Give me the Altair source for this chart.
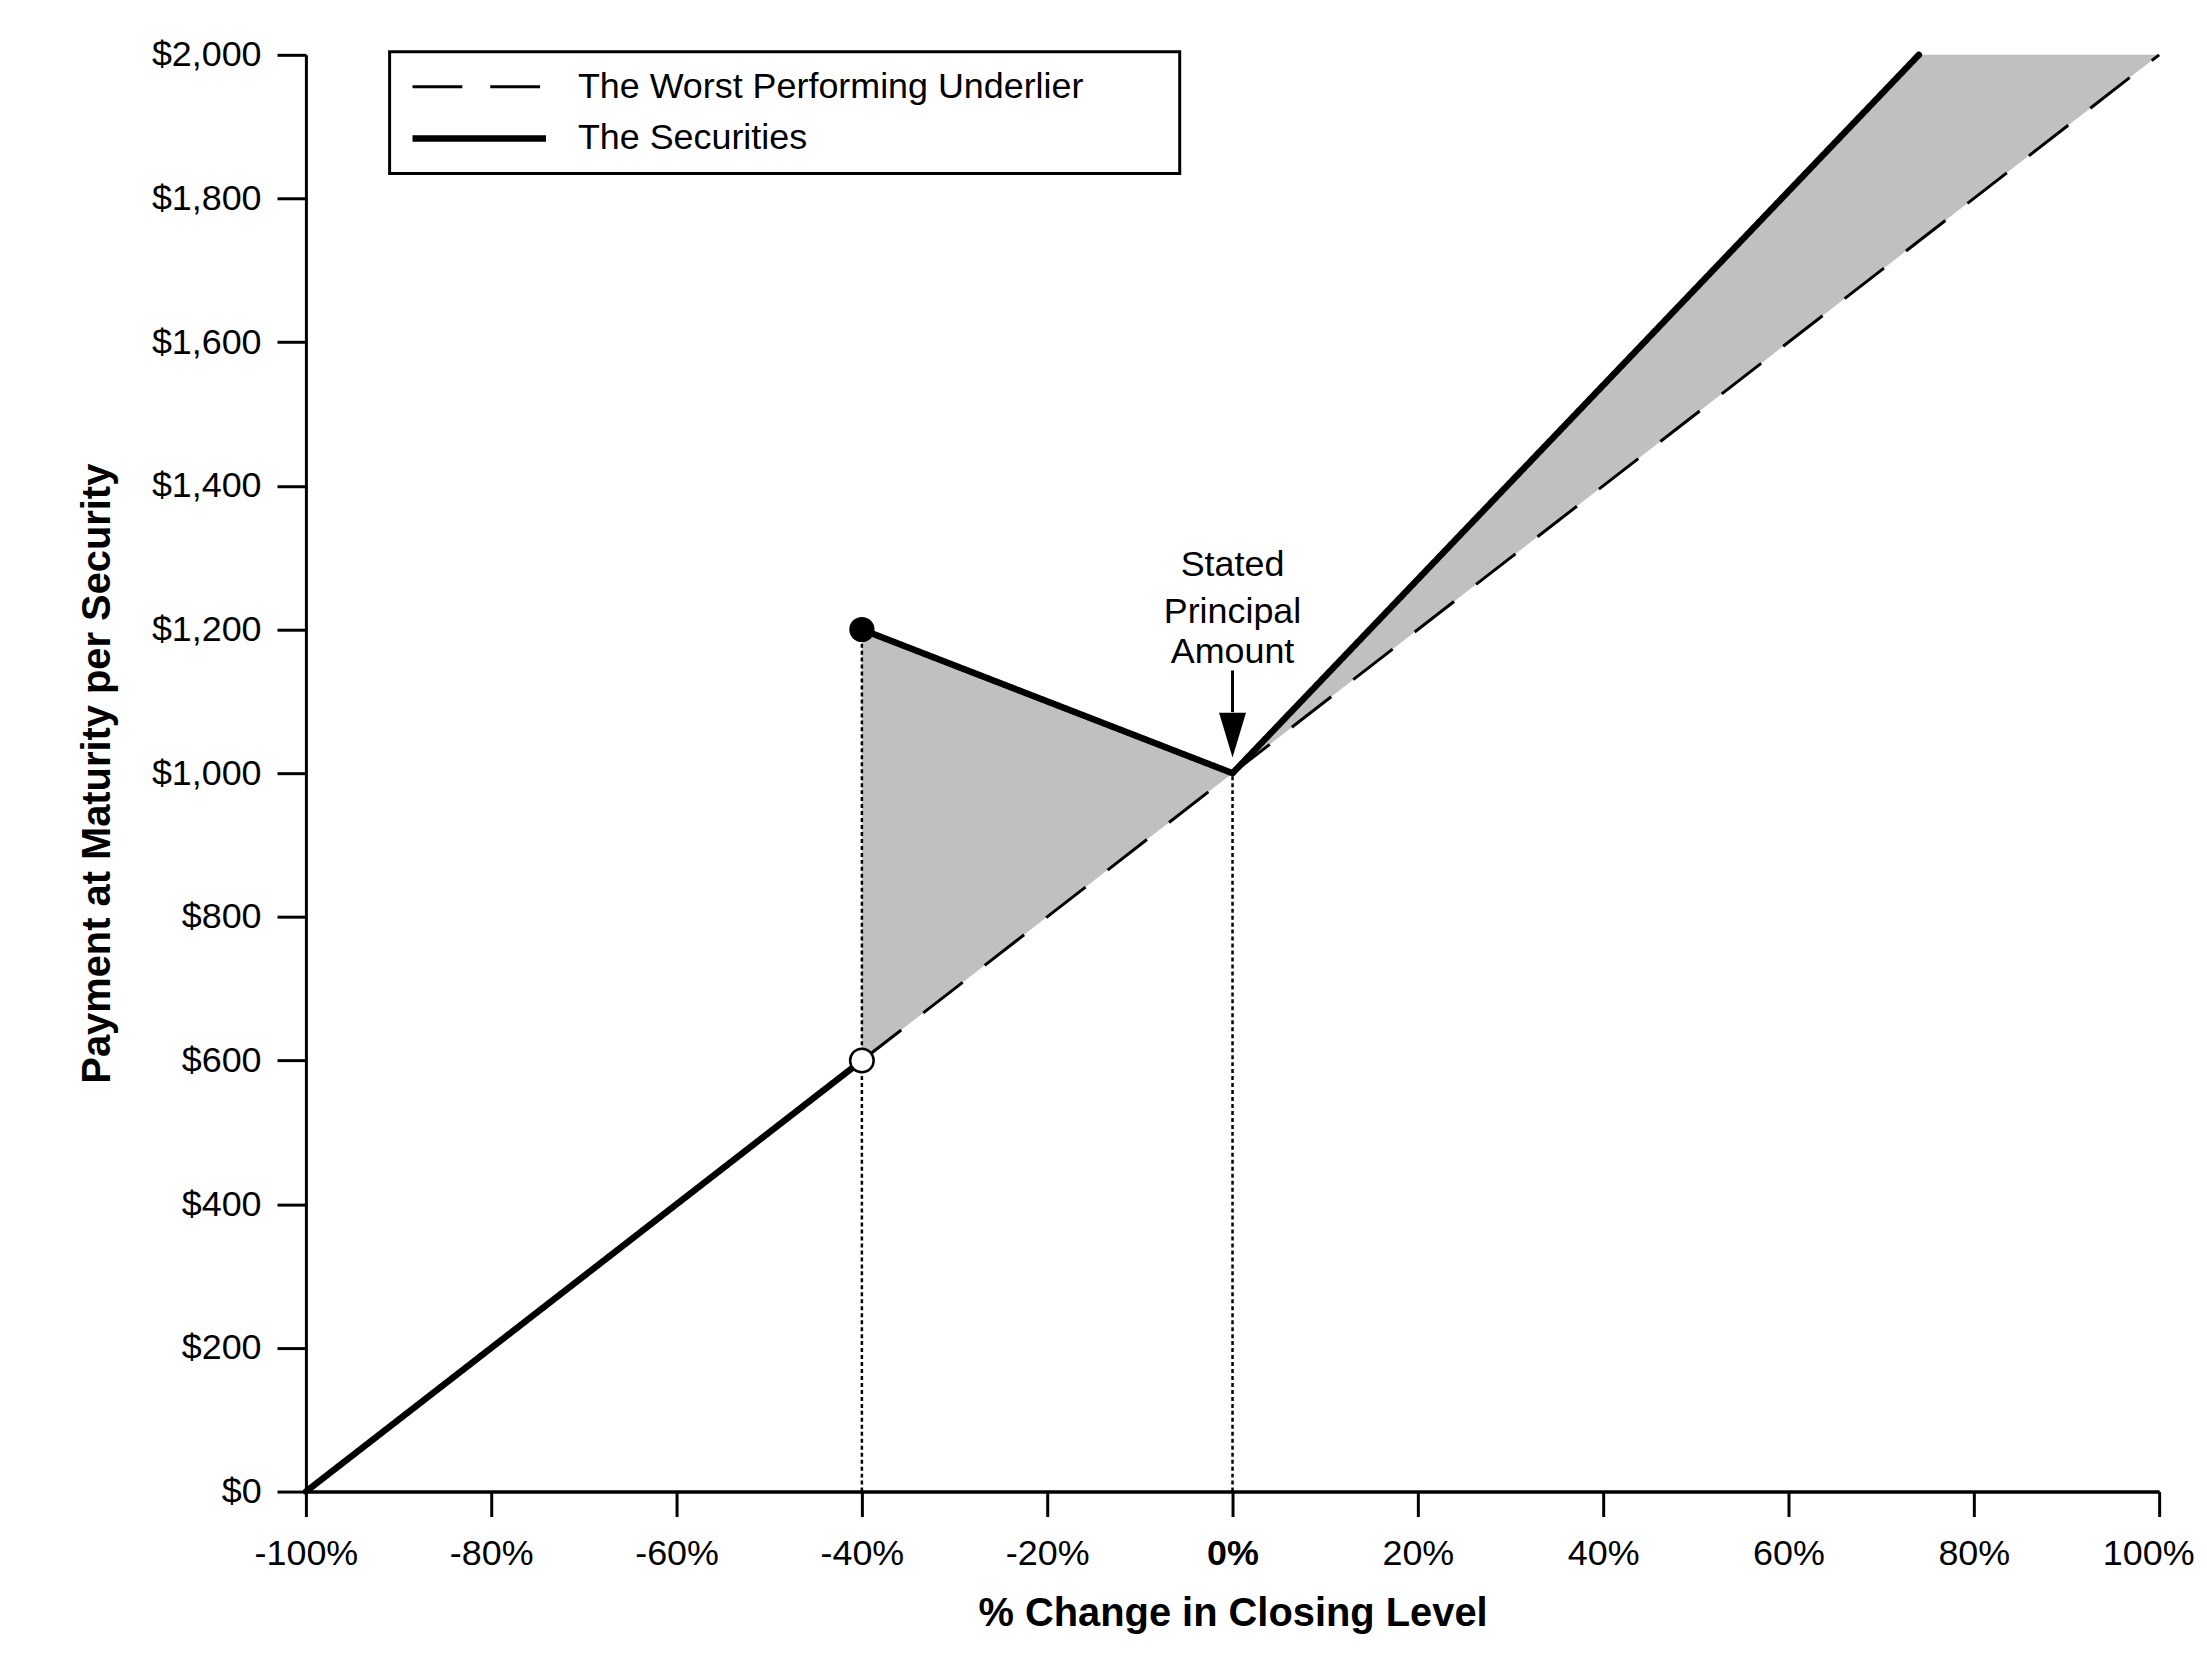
import altair as alt
import pandas as pd

FONT = "Liberation Sans"
SERIES = ["The Worst Performing Underlier", "The Securities"]

# ---- data ----
x_ticks = [-100, -80, -60, -40, -20, 0, 20, 40, 60, 80, 100]
y_ticks = [0, 200, 400, 600, 800, 1000, 1200, 1400, 1600, 1800, 2000]

und_x = [-40, 100]
und_y = [600, 2000]

sec_x = [-100, -40, -40, 0, 74.07]
sec_y = [0, 600, 1200, 1000, 2000]
sec_seg = [1, 1, 2, 2, 2]

area_x = [-40, 0, 74.07, 100]
area_lo = [600, 1000, 1740.7, 2000]
area_hi = [1200, 1000, 2000, 2000]

guide_x = [-40, 0]
guide_bottom = [0, 0]
guide_top = [1200, 1000]

filled_x = [-40]
filled_y = [1200]
open_x = [-40]
open_y = [600]

note_lines = ["Stated", "Principal", "Amount"]
note_x = [0, 0, 0]
note_y = [1275, 1209, 1153]

arrow_x = [0]
arrow_top = [1143]
arrow_base = [1085]
arrow_head = [1053]

# ---- tables ----
und_df = pd.DataFrame({"x": und_x, "y": und_y, "series": SERIES[0], "seg": 0})
sec_df = pd.DataFrame({"x": sec_x, "y": sec_y, "series": SERIES[1], "seg": sec_seg})
area_df = pd.DataFrame({"x": area_x, "lo": area_lo, "hi": area_hi})
guide_df = pd.DataFrame({"x": guide_x, "y": guide_bottom, "y2": guide_top})
filled_df = pd.DataFrame({"x": filled_x, "y": filled_y})
open_df = pd.DataFrame({"x": open_x, "y": open_y})
note_df = pd.DataFrame({"x": note_x, "y": note_y, "t": note_lines})
arrow_df = pd.DataFrame({"x": arrow_x, "top": arrow_top, "base": arrow_base, "head": arrow_head})

xs = alt.Scale(domain=[-100, 100], nice=False, zero=False)
ys = alt.Scale(domain=[0, 2000], nice=False)

x_axis = alt.Axis(
    values=x_ticks, labelExpr="datum.value + '%'", title="% Change in Closing Level",
    grid=False, tickSize=25, tickWidth=3, domainWidth=3.5, labelPadding=20,
    labelFont=FONT, labelFontSize=36, labelFlush=False, labelOverlap=False,
    labelFontWeight={"condition": {"test": "datum.value === 0", "value": "bold"}, "value": "normal"},
    labelOffset={"condition": {"test": "datum.value === 100", "value": -11}, "value": 0},
    titleFont=FONT, titleFontSize=40, titleFontWeight="bold",
    titleY=134, titleBaseline="alphabetic",
)
y_axis = alt.Axis(
    values=y_ticks, format="$,.0f", title="Payment at Maturity per Security",
    grid=False, tickSize=29, tickWidth=3, domainWidth=3, labelPadding=16,
    labelFont=FONT, labelFontSize=36, labelOverlap=False, labelFlush=False,
    titleFont=FONT, titleFontSize=40, titleFontWeight="bold",
    titleX=-197, titleY=721, titleAngle=270, titleBaseline="alphabetic", titleAlign="center",
)

leg = alt.Legend(
    title="\u00a0", titleOrient="right", titleFontSize=1, titlePadding=80,
    orient="none", legendX=84, legendY=-3,
    symbolType="M-1.2,0L12.2,0", symbolSize=400, symbolStrokeColor="black",
    labelFont=FONT, labelFontSize=36, labelColor="black", labelOffset=136, labelLimit=1000,
    rowPadding=16, padding=17, strokeColor="black", fillColor="white",
)

dash = alt.StrokeDash("series:N", scale=alt.Scale(domain=SERIES, range=[[50, 28], [1, 0]]), legend=leg)
width = alt.StrokeWidth("series:N", scale=alt.Scale(domain=SERIES, range=[3, 6.5]), legend=leg)

X = alt.X("x:Q", scale=xs, axis=x_axis)

area = alt.Chart(area_df).mark_area(color="#c0c0c0", opacity=1).encode(
    x=X, y=alt.Y("lo:Q", scale=ys, axis=y_axis), y2="hi:Q"
)
guides = alt.Chart(guide_df).mark_rule(color="black", strokeWidth=2.5, strokeDash=[4, 3]).encode(
    x="x:Q", y="y:Q", y2="y2:Q"
)
und_line = alt.Chart(und_df).mark_line(color="black", strokeCap="butt").encode(
    x="x:Q", y="y:Q", strokeDash=dash, strokeWidth=width, detail="seg:N"
)
sec_line = alt.Chart(sec_df).mark_line(color="black", strokeCap="round", strokeJoin="round").encode(
    x="x:Q", y="y:Q", strokeDash=dash, strokeWidth=width, detail="seg:N"
)
filled = alt.Chart(filled_df).mark_circle(color="black", size=640, opacity=1).encode(x="x:Q", y="y:Q")
open_pt = alt.Chart(open_df).mark_circle(fill="white", stroke="black", strokeWidth=2.5, size=560, opacity=1).encode(
    x="x:Q", y="y:Q"
)
note = alt.Chart(note_df).mark_text(font=FONT, fontSize=36, baseline="alphabetic", align="center", color="black").encode(
    x="x:Q", y="y:Q", text="t:N"
)
shaft = alt.Chart(arrow_df).mark_rule(color="black", strokeWidth=3).encode(x="x:Q", y="top:Q", y2="base:Q")
head = alt.Chart(arrow_df).mark_point(shape="M-0.6,-1L0.6,-1L0,1Z", size=2025, filled=True, color="black", opacity=1).encode(
    x="x:Q", y="head:Q"
)

chart = alt.layer(area, guides, und_line, sec_line, filled, open_pt, note, shaft, head).properties(
    width=1860, height=1442,
    autosize=alt.AutoSizeParams(type="none"),
    padding={"left": 299, "top": 44, "right": 40, "bottom": 150},
    background="white",
).configure_view(stroke="transparent").configure_axis(
    domainColor="black", tickColor="black", labelColor="black", titleColor="black"
).configure_legend(strokeWidth=3)

chart.save("out.html", embed_options={"renderer": "svg", "actions": False})
